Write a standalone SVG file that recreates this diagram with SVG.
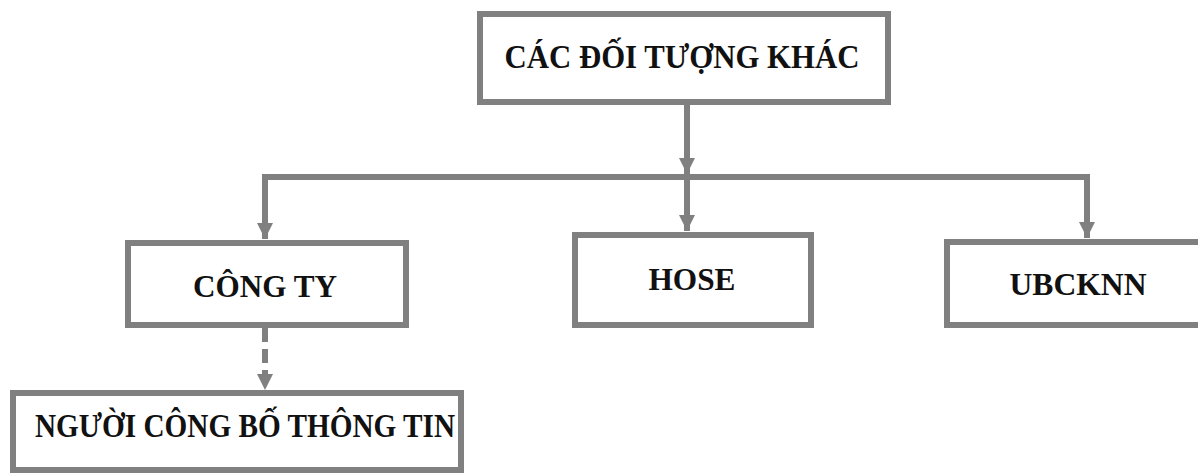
<svg xmlns="http://www.w3.org/2000/svg" width="1198" height="473" viewBox="0 0 1198 473">
<style>
.box{fill:#fff;stroke:#808080;stroke-width:6}
.lbl{font-family:"Liberation Serif","Times New Roman",serif;font-weight:bold;fill:#111;text-anchor:middle}
.ln{fill:none;stroke:#808080;stroke-width:6}
.dash{stroke-dasharray:14 7}
</style>
<defs>
<marker id="ah" viewBox="0 0 10 10" refX="10" refY="5" markerWidth="2.7" markerHeight="2.7" orient="auto" markerUnits="strokeWidth">
<path d="M0,0 L10,5 L0,10 z" fill="#808080"/>
</marker>
</defs>
<rect width="1198" height="473" fill="#fff"/>
<g id="connectors">
<line class="ln" x1="687" y1="104" x2="687" y2="174" marker-end="url(#ah)"/>
<line class="ln" x1="687" y1="176" x2="687" y2="231" marker-end="url(#ah)"/>
<path class="ln" d="M687,177 H265 V239" marker-end="url(#ah)"/>
<path class="ln" d="M687,177 H1087 V238" marker-end="url(#ah)"/>
<line class="ln dash" x1="265" y1="328" x2="265" y2="390" marker-end="url(#ah)"/>
</g>
<g id="node-top">
<rect class="box" x="480" y="14" width="408" height="88"/>
<text class="lbl" x="682" y="68" font-size="34" textLength="355" lengthAdjust="spacingAndGlyphs">CÁC ĐỐI TƯỢNG KHÁC</text>
</g>
<g id="node-congty">
<rect class="box" x="128" y="243" width="278" height="82"/>
<text class="lbl" x="265" y="297" font-size="32" textLength="144" lengthAdjust="spacingAndGlyphs">CÔNG TY</text>
</g>
<g id="node-hose">
<rect class="box" x="575" y="235" width="236" height="90"/>
<text class="lbl" x="692" y="290" font-size="31" textLength="87" lengthAdjust="spacingAndGlyphs">HOSE</text>
</g>
<g id="node-ubcknn">
<rect class="box" x="947" y="242" width="260" height="83"/>
<text class="lbl" x="1078" y="295" font-size="31" textLength="137" lengthAdjust="spacingAndGlyphs">UBCKNN</text>
</g>
<g id="node-nguoi">
<rect class="box" x="13" y="393" width="448" height="77"/>
<text class="lbl" x="245" y="437" font-size="33" textLength="420" lengthAdjust="spacingAndGlyphs">NGƯỜI CÔNG BỐ THÔNG TIN</text>
</g>
</svg>
